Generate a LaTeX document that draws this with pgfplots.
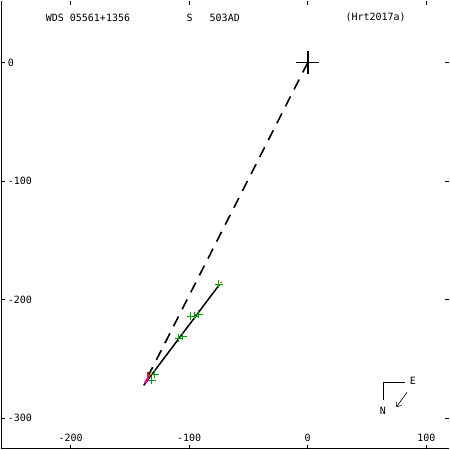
\documentclass[border=0pt]{standalone}
\usepackage{fontspec}
\newfontfamily\monof{DejaVu Sans Mono}
\usepackage{pgfplots}
\pgfplotsset{compat=1.18}
\usetikzlibrary{arrows.meta}
\definecolor{obsgreen}{RGB}{0,160,0}
\begin{document}
\begin{tikzpicture}
\begin{axis}[
  width=449pt, height=449pt, scale only axis,
  xmin=-258.96, xmax=119.4, ymin=-326.1, ymax=52.25,
  axis line style={draw=none},
  tick align=inside, major tick length=4.5pt,
  tick style={black, line width=0.8pt},
  xtick={-200,-100,0,100}, xticklabels={-200,-100,0,100},
  ytick={-300,-200,-100,0}, yticklabels={-300,-200,-100,0},
  xticklabel style={anchor=south, yshift=6pt, inner sep=1pt, font=\monof\fontsize{10}{12}\selectfont},
  yticklabel style={anchor=west, xshift=6pt, inner sep=1pt, font=\monof\fontsize{10}{12}\selectfont},
  clip=false,
]
% dashed line from primary to companion
\addplot[black, line width=1.6pt, dash pattern=on 11pt off 8pt] coordinates {(0,0) (-138,-271)};
% orbit arc (solid)
\addplot[black, line width=1.5pt] coordinates {(-74.4,-187.1) (-138.4,-272.2)};
% observations
\addplot[only marks, mark=+, mark size=4pt, obsgreen, line width=1pt] coordinates {
(-75.25,-187.1) (-98.85,-214.0) (-95.5,-214.0) (-92.1,-212.4)
(-105.6,-230.9) (-109.0,-232.6) (-129.2,-262.9) (-131.7,-268.0)};
% residual lines
\addplot[red, line width=1.6pt] coordinates {(-134.8,-261) (-134.8,-266)};
\addplot[red, line width=1.2pt] coordinates {(-73.5,-185.0) (-72.5,-185.5)};
\addplot[magenta, line width=2.2pt] coordinates {(-137.3,-270.4) (-134.2,-265.0)};
% primary
\addplot[only marks, mark=+, mark size=11.5pt, black, line width=1.6pt] coordinates {(0,0)};
\end{axis}
% frame (left and bottom)
\draw[line width=1.4pt] (0.7pt,0) -- (0.7pt,449pt);
\draw[line width=1.4pt] (0,0.7pt) -- (449pt,0.7pt);
% header texts
\node[anchor=west, inner sep=0, font=\monof\fontsize{10}{12}\selectfont] at (45pt,432pt) {WDS 05561+1356};
\node[anchor=west, inner sep=0, font=\monof\fontsize{10}{12}\selectfont] at (186pt,432pt) {S};
\node[anchor=west, inner sep=0, font=\monof\fontsize{10}{12}\selectfont] at (209pt,432pt) {503AD};
\node[anchor=west, inner sep=0, font=\monof\fontsize{10}{12}\selectfont] at (345pt,432pt) {(Hrt2017a)};
% compass
\draw[line width=0.7pt] (405pt,67.3pt) -- (383pt,67.3pt) -- (383pt,49pt);
\node[inner sep=0, font=\monof\fontsize{10}{12}\selectfont] at (412.5pt,68.3pt) {E};
\node[inner sep=0, font=\monof\fontsize{10}{12}\selectfont] at (382.5pt,38.3pt) {N};
\draw[line width=0.6pt, -{Straight Barb[length=4pt,width=7pt]}] (406.7pt,57pt) -- (396pt,42.3pt);
\end{tikzpicture}
\end{document}
